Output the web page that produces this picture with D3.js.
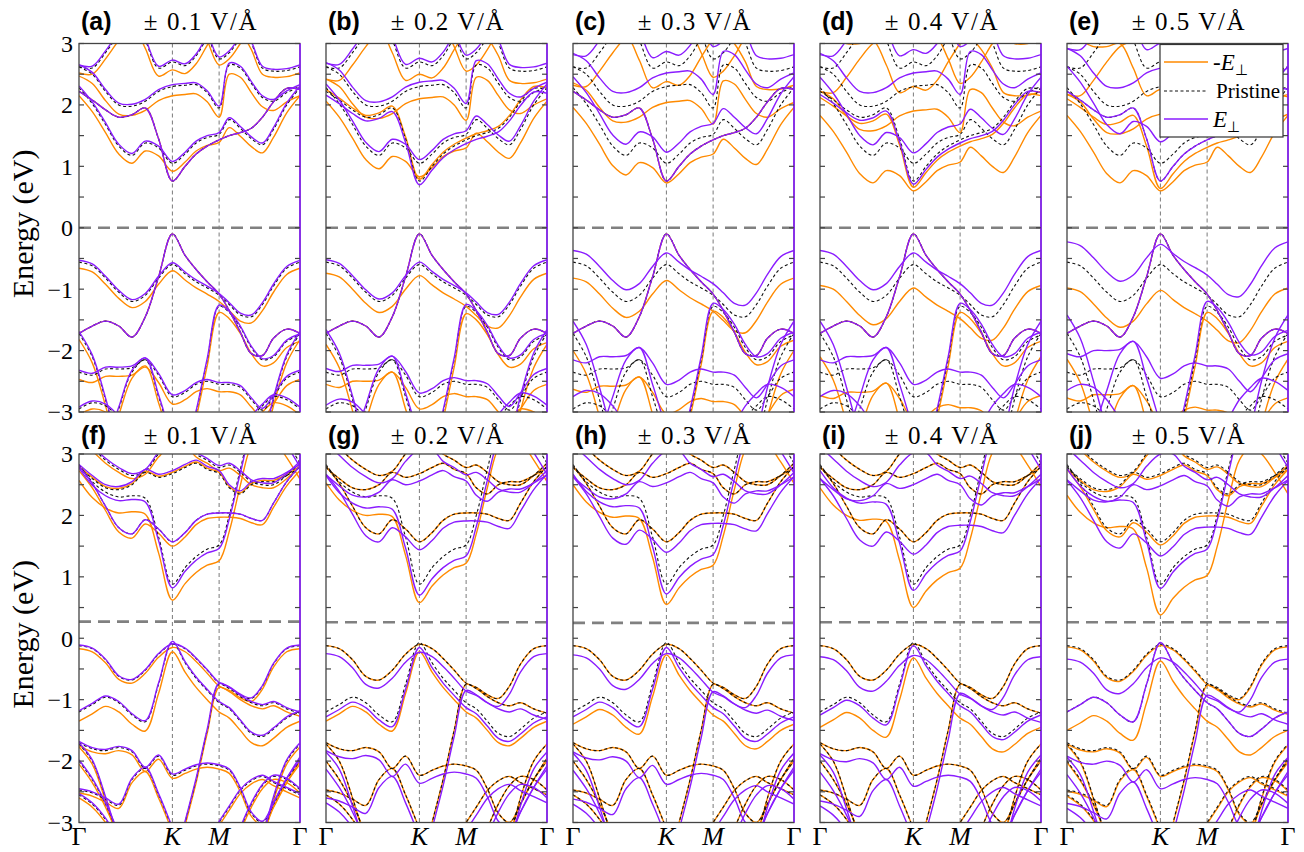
<!DOCTYPE html>
<html>
<head>
<meta charset="utf-8">
<script src="https://cdn.jsdelivr.net/npm/d3@7"></script>
<style>
  body { margin: 0; background: #fff; }
  svg { display: block; }
</style>
</head>
<body>
<svg id="chart" width="1304" height="852"></svg>
<script>
// ---- k-path sampling (fraction of the Γ–K–M–Γ path) ----
const kNodes = [0, 0.06, 0.12, 0.18, 0.24, 0.30, 0.36, 0.4226, 0.48, 0.53, 0.58, 0.634, 0.68, 0.73, 0.78, 0.83, 0.88, 0.94, 1.0];
const kLabels = ["Γ", "K", "M", "Γ"];
const kLabelPos = [0, 0.4226, 0.634, 1];
const energyTicks = [-3, -2, -1, 0, 1, 2, 3];

const panelTags = ["(a)", "(b)", "(c)", "(d)", "(e)", "(f)", "(g)", "(h)", "(i)", "(j)"];
const fieldLabels = ["± 0.1 V/Å", "± 0.2 V/Å", "± 0.3 V/Å", "± 0.4 V/Å", "± 0.5 V/Å",
                     "± 0.1 V/Å", "± 0.2 V/Å", "± 0.3 V/Å", "± 0.4 V/Å", "± 0.5 V/Å"];
const fermiLevels = [0, 0, 0, 0, 0, 0.27, 0.26, 0.25, 0.26, 0.26];

// ---- pristine bands, top row (eV at kNodes) ----
const topBands = [
  [2.22, 2.08, 1.92, 1.80, 1.84, 1.95, 1.45, 0.76, 1.00, 1.20, 1.33, 1.43, 1.50, 1.55, 1.62, 1.80, 2.05, 2.27, 2.25],
  [2.28, 2.02, 1.68, 1.33, 1.18, 1.38, 1.30, 1.05, 1.20, 1.38, 1.47, 1.52, 1.76, 1.62, 1.45, 1.35, 1.60, 2.00, 2.28],
  [2.62, 2.50, 2.22, 2.00, 1.98, 2.06, 2.22, 2.30, 2.32, 2.33, 2.20, 1.95, 2.65, 2.60, 2.35, 2.12, 2.06, 2.20, 2.30],
  [3.60, 3.50, 3.40, 3.40, 3.45, 3.05, 2.60, 2.70, 2.64, 2.80, 3.10, 3.40, 3.60, 3.60, 3.60, 3.50, 3.40, 3.40, 3.50],
  [3.60, 3.60, 3.60, 3.60, 3.60, 3.60, 3.60, 3.60, 3.60, 3.50, 3.15, 2.75, 2.85, 3.10, 3.40, 3.60, 3.60, 3.60, 3.60],
  [2.62, 2.60, 2.85, 3.15, 3.40, 3.50, 3.60, 3.60, 3.60, 3.60, 3.60, 3.60, 3.50, 3.30, 3.00, 2.60, 2.55, 2.56, 2.62],
  [-0.56, -0.62, -0.82, -1.05, -1.20, -1.10, -0.82, -0.60, -0.75, -0.88, -0.98, -1.10, -1.25, -1.42, -1.45, -1.25, -0.95, -0.66, -0.56],
  [-1.72, -1.60, -1.52, -1.60, -1.78, -1.45, -0.80, -0.10, -0.45, -0.68, -0.88, -1.08, -1.35, -1.70, -2.05, -2.08, -1.80, -1.65, -1.72],
  [-5.0, -5.0, -5.0, -5.0, -5.0, -5.0, -5.0, -4.3, -3.7, -3.0, -2.15, -1.28, -1.38, -1.62, -1.95, -2.15, -2.10, -1.85, -1.75],
  [-1.72, -2.10, -2.80, -3.60, -4.30, -5.0, -5.0, -5.0, -5.0, -5.0, -5.0, -5.0, -5.0, -5.0, -4.30, -3.60, -2.80, -2.10, -1.72],
  [-2.35, -2.40, -2.30, -2.30, -2.28, -2.15, -2.40, -2.75, -2.68, -2.55, -2.50, -2.55, -2.55, -2.60, -2.80, -2.97, -2.75, -2.45, -2.35],
  [-4.5, -4.2, -3.6, -2.95, -2.35, -2.15, -2.75, -3.5, -4.2, -4.5, -4.5, -4.5, -4.5, -4.5, -4.5, -4.5, -4.5, -4.5, -4.5],
  [-2.95, -2.85, -2.90, -3.10, -3.40, -3.60, -3.60, -3.60, -3.60, -3.60, -3.60, -3.60, -3.60, -3.40, -3.10, -2.90, -2.75, -2.80, -2.95]
];

// ---- pristine bands, bottom row ----
const bottomBands = [
  [2.83, 2.55, 2.38, 2.30, 2.32, 2.28, 1.65, 0.88, 1.15, 1.33, 1.45, 1.52, 2.00, 2.75, 3.40, 3.60, 3.50, 3.20, 2.85],
  [2.80, 2.52, 2.15, 1.80, 1.70, 1.93, 1.78, 1.57, 1.72, 1.92, 2.02, 2.04, 2.04, 2.02, 1.95, 1.92, 2.20, 2.55, 2.80],
  [2.78, 2.60, 2.45, 2.42, 2.50, 2.70, 2.62, 2.68, 2.78, 2.85, 2.75, 2.68, 2.45, 2.35, 2.50, 2.55, 2.55, 2.65, 2.78],
  [3.30, 3.10, 2.90, 2.75, 2.65, 2.72, 3.00, 3.20, 3.20, 3.00, 2.90, 2.78, 2.82, 2.70, 2.55, 2.50, 2.50, 2.65, 2.85],
  [-0.12, -0.17, -0.35, -0.62, -0.68, -0.52, -0.26, -0.10, -0.17, -0.33, -0.52, -0.73, -0.80, -0.92, -0.98, -0.78, -0.42, -0.17, -0.12],
  [-1.20, -1.08, -0.96, -1.05, -1.25, -1.36, -0.75, -0.07, -0.40, -0.65, -0.85, -1.05, -1.15, -1.35, -1.55, -1.60, -1.48, -1.30, -1.20],
  [-5.0, -5.0, -5.0, -5.0, -5.0, -5.0, -5.0, -3.8, -3.0, -2.3, -1.5, -0.75, -0.82, -0.95, -1.05, -1.10, -1.05, -1.15, -1.22],
  [-1.70, -1.80, -1.83, -1.78, -1.85, -2.12, -1.92, -2.23, -2.15, -2.08, -2.05, -2.08, -2.15, -2.45, -2.85, -3.00, -2.70, -2.30, -1.95],
  [-2.47, -2.52, -2.62, -2.72, -2.30, -2.12, -2.55, -3.10, -3.60, -4.0, -4.0, -4.0, -3.60, -3.10, -2.70, -2.40, -2.25, -2.30, -2.47],
  [-1.72, -2.00, -2.60, -3.30, -4.0, -4.5, -4.5, -4.5, -4.5, -4.5, -4.5, -4.5, -4.5, -4.5, -4.0, -3.30, -2.60, -2.00, -1.72],
  [-2.55, -2.70, -2.95, -3.30, -3.60, -3.80, -3.80, -3.80, -3.80, -3.60, -3.30, -3.00, -2.75, -2.48, -2.32, -2.25, -2.35, -2.45, -2.55],
  [-2.00, -2.30, -2.70, -3.20, -3.80, -4.5, -4.5, -4.5, -4.5, -4.5, -4.5, -4.5, -4.5, -4.5, -3.80, -3.20, -2.70, -2.30, -2.00]
];

// ---- band shifts under +E (purple) and -E (orange), one value per band ----
const topShiftPos = [
  [0, 0.03, 0.03, 0.03, 0.03, 0.03, 0.03, 0, 0.02, 0.03, 0.03, 0.03, 0.03],
  [-0.06, 0.06, 0.07, 0.06, 0.06, 0.06, 0.04, 0, 0.03, 0.06, 0.06, 0.06, 0.06],
  [0, 0.18, 0.22, 0.17, 0.20, 0.20, 0.19, 0, 0.05, 0.20, 0.20, 0.20, 0.20],
  [-0.05, 0.17, 0.22, 0.20, 0.20, 0.20, 0.19, 0, 0.05, 0.20, 0.20, 0.20, 0.20],
  [0, 0.35, 0.30, 0.30, 0.30, 0.30, 0.33, 0, 0.08, 0.30, 0.30, 0.30, 0.30]
];
const topShiftNeg = [
  [0, -0.13, -0.15, -0.13, -0.10, -0.10, -0.10, 0, -0.10, -0.10, -0.12, -0.10, -0.10],
  [0.03, -0.22, -0.20, -0.20, -0.20, -0.20, -0.18, 0, -0.12, -0.18, -0.20, -0.20, -0.20],
  [0, -0.32, -0.26, -0.32, -0.30, -0.30, -0.26, 0, -0.08, -0.28, -0.28, -0.28, -0.28],
  [-0.10, -0.45, -0.40, -0.40, -0.40, -0.40, -0.38, 0, -0.10, -0.38, -0.38, -0.38, -0.38],
  [-0.12, -0.45, -0.45, -0.45, -0.45, -0.45, -0.42, 0, -0.10, -0.42, -0.42, -0.42, -0.42]
];
const bottomShiftPos = [
  [-0.06, 0, 0.05, 0.03, 0.01, 0.02, 0.02, 0.02, 0.02, 0.02, 0.02, 0.02],
  [-0.18, -0.13, -0.12, -0.12, -0.13, -0.08, -0.10, -0.13, -0.13, -0.13, -0.13, -0.13],
  [-0.16, -0.17, -0.15, -0.15, -0.15, -0.08, -0.12, -0.15, -0.15, -0.15, -0.15, -0.15],
  [-0.10, -0.20, -0.18, -0.18, -0.18, -0.05, -0.15, -0.18, -0.18, -0.18, -0.18, -0.18],
  [-0.07, -0.23, -0.20, -0.20, -0.22, 0, -0.18, -0.22, -0.22, -0.22, -0.22, -0.22]
];
const bottomShiftNeg = [
  [-0.26, -0.07, 0.02, -0.05, -0.05, -0.15, -0.05, -0.05, -0.05, -0.05, -0.05, -0.05],
  [-0.30, 0, 0, 0, 0, -0.15, 0, 0, 0, 0, 0, 0],
  [-0.33, 0, 0, 0, 0, -0.20, 0, 0, 0, 0, 0, 0],
  [-0.38, 0, 0, 0, 0, -0.25, 0, 0, 0, 0, 0, 0],
  [-0.50, -0.05, -0.03, -0.03, -0.02, -0.30, -0.02, -0.02, -0.02, -0.02, -0.02, -0.02]
];

// ---- styling / layout ----
const ORANGE = "#ff8a00";
const PURPLE = "#8a1cff";
const W = 221, H = 368.5, COL_STEP = 247;
const LEFT0 = 79;
const ROW_TOP = [43.5, 454];
const SERIF = "Liberation Serif";
const SANS = "Liberation Sans";

const svg = d3.select("#chart");
const defs = svg.append("defs");

function drawPanel(p) {
  const row = Math.floor(p / 5), col = p % 5;
  const x0 = LEFT0 + col * COL_STEP, y0 = ROW_TOP[row];
  const x = d3.scaleLinear().domain([0, 1]).range([x0, x0 + W]);
  const y = d3.scaleLinear().domain([-3, 3]).range([y0 + H, y0]);

  const clipId = "clip" + p;
  defs.append("clipPath").attr("id", clipId)
    .append("rect").attr("x", x0).attr("y", y0).attr("width", W).attr("height", H);

  const g = svg.append("g");
  const plot = g.append("g").attr("clip-path", `url(#${clipId})`);

  // high-symmetry guides
  [kLabelPos[1], kLabelPos[2]].forEach(k => {
    plot.append("line")
      .attr("x1", x(k)).attr("x2", x(k)).attr("y1", y0).attr("y2", y0 + H)
      .attr("stroke", "#7a7a7a").attr("stroke-width", 1).attr("stroke-dasharray", "4,3");
  });

  const bands = row === 0 ? topBands : bottomBands;
  const sPos = row === 0 ? topShiftPos[col] : bottomShiftPos[col];
  const sNeg = row === 0 ? topShiftNeg[col] : bottomShiftNeg[col];

  const line = d3.line()
    .x(d => x(d[0])).y(d => y(d[1]))
    .curve(d3.curveCatmullRom.alpha(0.5));

  const series = [
    { shift: sNeg, stroke: ORANGE, width: 1.4, dash: null },
    { shift: bands.map(() => 0), stroke: "#111", width: 1.1, dash: "3,2.5" },
    { shift: sPos, stroke: PURPLE, width: 1.4, dash: null }
  ];
  series.forEach(s => {
    bands.forEach((band, b) => {
      const pts = kNodes.map((k, i) => [k, band[i] + s.shift[b]]);
      plot.append("path")
        .attr("d", line(pts))
        .attr("fill", "none")
        .attr("stroke", s.stroke)
        .attr("stroke-width", s.width)
        .attr("stroke-dasharray", s.dash);
    });
  });

  // Fermi level
  g.append("line")
    .attr("x1", x0).attr("x2", x0 + W)
    .attr("y1", y(fermiLevels[p])).attr("y2", y(fermiLevels[p]))
    .attr("stroke", "#808080").attr("stroke-width", 2.6).attr("stroke-dasharray", "12,7");

  // frame
  g.append("rect").attr("x", x0).attr("y", y0).attr("width", W).attr("height", H)
    .attr("fill", "none").attr("stroke", "#444").attr("stroke-width", 1.3);
  // band touching the zone edge
  g.append("line").attr("x1", x0 + W).attr("x2", x0 + W).attr("y1", y0).attr("y2", y0 + H)
    .attr("stroke", PURPLE).attr("stroke-width", 1.6);

  // inward ticks on both sides
  const tickVals = d3.range(-3, 3.01, 0.5);
  tickVals.forEach(v => {
    g.append("line").attr("x1", x0).attr("x2", x0 + 5).attr("y1", y(v)).attr("y2", y(v))
      .attr("stroke", "#444").attr("stroke-width", 1.2);
    g.append("line").attr("x1", x0 + W - 5).attr("x2", x0 + W).attr("y1", y(v)).attr("y2", y(v))
      .attr("stroke", "#444").attr("stroke-width", 1.2);
  });

  if (col === 0) {
    energyTicks.forEach(v => {
      g.append("text")
        .attr("x", x0 - 6).attr("y", y(v)).attr("dy", "0.35em")
        .attr("text-anchor", "end")
        .attr("font-family", SERIF).attr("font-size", 24)
        .text(v < 0 ? "\u2212" + Math.abs(v) : String(v));
    });
    g.append("text")
      .attr("transform", `translate(33,${y0 + H / 2 - 4}) rotate(-90)`)
      .attr("text-anchor", "middle")
      .attr("font-family", SERIF).attr("font-size", 30)
      .text("Energy (eV)");
  }

  if (row === 1) {
    kLabels.forEach((lab, i) => {
      g.append("text")
        .attr("x", x(kLabelPos[i])).attr("y", 845)
        .attr("text-anchor", "middle")
        .attr("font-family", SERIF).attr("font-size", 26)
        .attr("font-style", lab === "Γ" ? "normal" : "italic")
        .text(lab);
    });
  }

  // titles
  const baseY = row === 0 ? 30 : 443.5;
  g.append("text").attr("x", x0 + 2).attr("y", baseY)
    .attr("font-family", SANS).attr("font-weight", "bold").attr("font-size", 25)
    .text(panelTags[p]);
  g.append("text").attr("x", x0 + 122).attr("y", baseY)
    .attr("text-anchor", "middle")
    .attr("font-family", SERIF).attr("font-size", 25).attr("letter-spacing", 1.6)
    .text(fieldLabels[p]);
}

d3.range(10).forEach(drawPanel);

// legend in panel (e)
const leg = svg.append("g");
leg.append("rect").attr("x", 1160).attr("y", 44.5).attr("width", 123).attr("height", 92.5)
  .attr("fill", "#fff").attr("stroke", "#333").attr("stroke-width", 1.2);
const legendItems = [
  { y: 62, stroke: ORANGE, dash: null, width: 1.4, kind: "neg" },
  { y: 91, stroke: "#111", dash: "3,2.5", width: 1.1, kind: "pristine" },
  { y: 119, stroke: PURPLE, dash: null, width: 1.4, kind: "pos" }
];
legendItems.forEach(it => {
  leg.append("line").attr("x1", 1164).attr("x2", 1208).attr("y1", it.y).attr("y2", it.y)
    .attr("stroke", it.stroke).attr("stroke-width", it.width).attr("stroke-dasharray", it.dash);
  const t = leg.append("text").attr("x", 1213).attr("y", it.y).attr("dy", "0.35em")
    .attr("font-family", SERIF).attr("font-size", 23);
  if (it.kind === "pristine") {
    t.attr("x", 1216).attr("font-size", 21).text("Pristine");
  } else {
    if (it.kind === "neg") t.append("tspan").text("-");
    t.append("tspan").attr("font-style", "italic").text("E");
    t.append("tspan").attr("font-size", 15).attr("dy", "0.35em").text("\u22A5");
  }
});
</script>
</body>
</html>
